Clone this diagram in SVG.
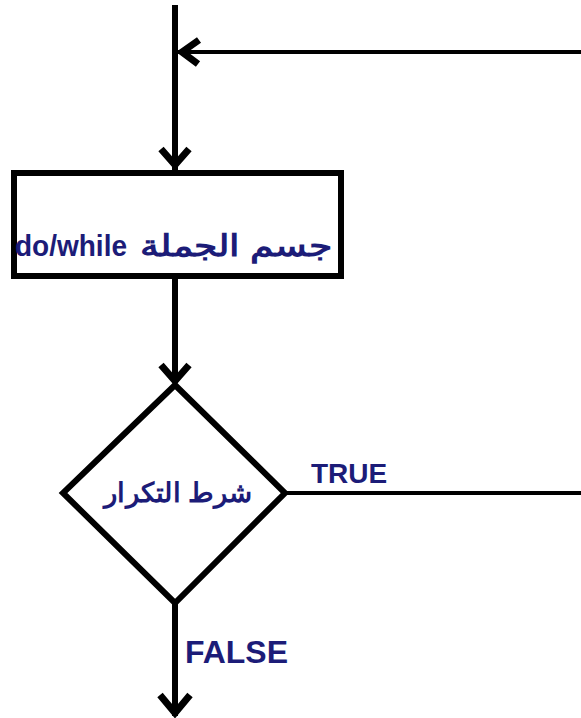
<svg xmlns="http://www.w3.org/2000/svg" width="581" height="718" viewBox="0 0 581 718">
<style>
.ln{stroke:#000;stroke-width:6;fill:none;stroke-linecap:butt}
.hz{stroke:#000;stroke-width:4;fill:none}
.ah{stroke:#000;stroke-width:7;fill:none;stroke-linejoin:miter;stroke-linecap:butt}
.shape{fill:#fff;stroke:#000;stroke-width:6}
.lbl{font-family:"Liberation Sans","Noto Sans",Arial,sans-serif;font-weight:bold;fill:#1c1c78}
</style>
<rect width="581" height="718" fill="#fff"/>
<g id="connectors">
  <line class="ln" x1="175" y1="5" x2="175" y2="170"/>
  <polyline class="ah" points="161,149 175,165 189,149"/>
  <line class="hz" x1="581" y1="52" x2="177" y2="52"/>
  <polyline class="ah" points="199,40 182,52 198,64"/>
  <line class="ln" x1="175" y1="278" x2="175" y2="382"/>
  <polyline class="ah" points="161,365 175,381 189,365"/>
  <line class="hz" x1="285" y1="493" x2="581" y2="493"/>
  <line class="ln" x1="175" y1="604" x2="175" y2="716"/>
  <polyline class="ah" points="160,695 175,713 190,695"/>
  <text class="lbl" x="311" y="483" font-size="28">TRUE</text>
  <text class="lbl" x="185" y="663" font-size="31" textLength="103" lengthAdjust="spacingAndGlyphs">FALSE</text>
</g>
<g id="node-body">
  <rect class="shape" x="14" y="173" width="327" height="103"/>
  <text class="lbl" x="15" y="256" font-size="29" textLength="112" lengthAdjust="spacingAndGlyphs">do/while</text>
  <text class="lbl" x="140" y="256" font-size="30" textLength="193" lengthAdjust="spacingAndGlyphs">جسم الجملة</text>
</g>
<g id="node-cond">
  <polygon class="shape" points="175,385 285,493 175,603 63,493"/>
  <text class="lbl" x="104" y="502" font-size="27" textLength="149" lengthAdjust="spacingAndGlyphs">شرط التكرار</text>
</g>
</svg>
